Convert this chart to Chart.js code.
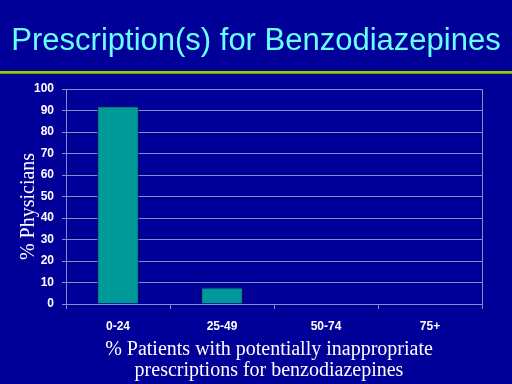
<!DOCTYPE html>
<html>
<head>
<meta charset="utf-8">
<script src="https://cdn.jsdelivr.net/npm/chart.js@4"></script>
<style>
  html, body { margin: 0; padding: 0; background: #000099; }
  canvas { display: block; }
</style>
</head>
<body>
<canvas id="c" width="512" height="384" style="width:512px;height:384px"></canvas>
<script>
const titleText = 'Prescription(s) for Benzodiazepines';
const categories = ['0-24', '25-49', '50-74', '75+'];
const physicianPercent = [92, 7.7, 0, 0];
const yAxisTitle = '% Physicians';
const xAxisTitle = ['% Patients with potentially inappropriate', 'prescriptions for benzodiazepines'];
const yMin = 0, yMax = 100, yStep = 10;

const gridColor = '#8a8ac8';
const sans = "'Liberation Sans', Arial, sans-serif";
const serif = "'Liberation Serif', 'Times New Roman', serif";

const ruleLine = {
  id: 'ruleLine',
  afterDraw(chart) {
    const ctx = chart.ctx;
    ctx.save();
    ctx.fillStyle = '#99cc00';
    ctx.fillRect(0, 71, chart.width, 2);
    ctx.fillStyle = '#6f9a10';
    ctx.fillRect(0, 73, chart.width, 1);
    ctx.restore();
  }
};

new Chart(document.getElementById('c'), {
  type: 'bar',
  data: {
    labels: categories,
    datasets: [{
      data: physicianPercent,
      backgroundColor: '#009999',
      borderColor: '#1a1a40',
      borderWidth: 1,
      categoryPercentage: 0.5,
      barPercentage: 0.8
    }]
  },
  options: {
    responsive: false,
    animation: false,
    devicePixelRatio: 1,
    layout: { padding: 0 },
    plugins: {
      legend: { display: false },
      tooltip: { enabled: false },
      title: {
        display: true,
        text: titleText,
        color: '#66ffff',
        font: { family: sans, size: 31, weight: 'normal', lineHeight: 1.2 },
        padding: { top: 23, bottom: 28.8 }
      }
    },
    scales: {
      x: {
        offset: true,
        grid: { display: true, drawOnChartArea: false, drawTicks: true, tickLength: 5, color: gridColor, offset: true },
        border: { display: true, color: gridColor, width: 1 },
        ticks: { color: '#ffffff', font: { family: sans, size: 12, weight: 'bold' }, padding: 10, maxRotation: 0 },
        title: {
          display: true,
          text: xAxisTitle.map(s => s + '  '),
          color: '#ffffff',
          font: { family: serif, size: 20, weight: 'normal', lineHeight: 1.08 },
          padding: { top: 0, bottom: 2 }
        },
        afterFit(scale) { scale.height = 80; }
      },
      y: {
        min: yMin,
        max: yMax,
        grid: { color: gridColor, tickLength: 4, drawTicks: true },
        border: { display: true, color: gridColor, width: 1 },
        ticks: { stepSize: yStep, color: '#ffffff', font: { family: sans, size: 12, weight: 'bold' }, padding: 8 },
        title: {
          display: true,
          text: yAxisTitle + '    ',
          color: '#ffffff',
          font: { family: serif, size: 20, weight: 'normal', lineHeight: 1.2 },
          padding: { top: 17, bottom: 0 }
        },
        afterFit(scale) { scale.width = 66; }
      },
      y2: {
        position: 'right',
        display: true,
        grid: { drawOnChartArea: false, drawTicks: false },
        border: { display: true, color: gridColor, width: 1 },
        ticks: { display: false },
        afterFit(scale) { scale.width = 30; }
      }
    }
  },
  plugins: [ruleLine]
});
</script>
</body>
</html>
